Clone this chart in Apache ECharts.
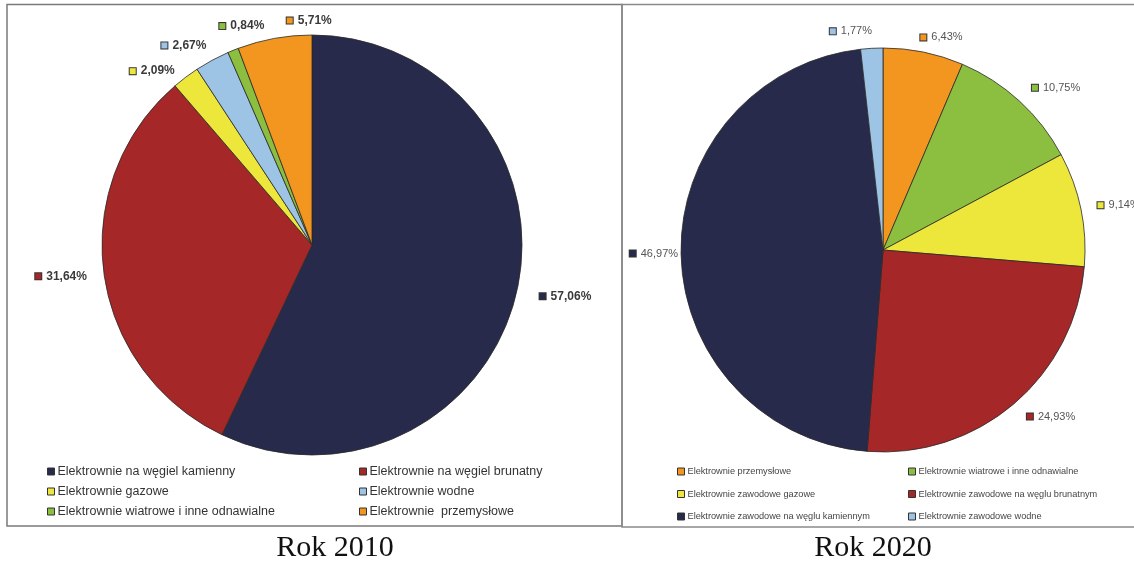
<!DOCTYPE html>
<html>
<head>
<meta charset="utf-8">
<title>Struktura produkcji energii elektrycznej – Rok 2010 i Rok 2020</title>
<script src="https://cdn.jsdelivr.net/npm/echarts@6/dist/echarts.min.js"></script>
<style>
  html, body { margin: 0; padding: 0; background: #fff; }
  #chart { width: 1134px; height: 561px; }
</style>
</head>
<body>
<div id="chart"></div>
<script>
// Rok 2010 – udział w produkcji energii elektrycznej [%]
const names2010 = [
  'Elektrownie na węgiel kamienny',
  'Elektrownie na węgiel brunatny',
  'Elektrownie gazowe',
  'Elektrownie wodne',
  'Elektrownie wiatrowe i inne odnawialne',
  'Elektrownie  przemysłowe'
];
const values2010 = [57.06, 31.64, 2.09, 2.67, 0.84, 5.71];
const colors2010 = ['#272a4a', '#a52727', '#ede73c', '#9dc3e5', '#8cbf40', '#f2961f'];

// Rok 2020 – udział w produkcji energii elektrycznej [%]
const names2020 = [
  'Elektrownie przemysłowe',
  'Elektrownie wiatrowe i inne odnawialne',
  'Elektrownie zawodowe gazowe',
  'Elektrownie zawodowe na węglu brunatnym',
  'Elektrownie zawodowe na węglu kamiennym',
  'Elektrownie zawodowe wodne'
];
const values2020 = [6.43, 10.75, 9.14, 24.93, 46.97, 1.77];
const colors2020 = ['#f2961f', '#8cbf40', '#ede73c', '#a52727', '#272a4a', '#9dc3e5'];

const titles = ['Rok 2010', 'Rok 2020'];

// label nudges (dx, dy) so the small slices' labels do not collide
const nudge2010 = [[0, 3], [6, 2], [8, 2], [12, -6], [48, -15], [72, -8]];
const nudge2020 = [[-11, -1], [-2, -3], [-2, -1], [-1, 2], [16, 0], [6, -3]];

const pct = v => v.toFixed(2).replace('.', ',') + '%';

function swatchStyles(colors) {
  const rich = {};
  colors.forEach((c, i) => {
    rich['s' + i] = { width: 6, height: 6, backgroundColor: c, borderColor: '#333', borderWidth: 1 };
  });
  return rich;
}

function pieData(names, values, colors) {
  return names.map((n, i) => ({ name: n, value: values[i], itemStyle: { color: colors[i] } }));
}

const sansFont = '"Liberation Sans", Arial, sans-serif';

function legendColumn(names, idx, left, top, fontSize, gap, color) {
  return {
    orient: 'vertical',
    left: left,
    top: top,
    itemGap: gap,
    itemWidth: 7,
    itemHeight: 7,
    icon: 'rect',
    padding: 0,
    data: idx.map(i => names[i]),
    itemStyle: { borderColor: '#333', borderWidth: 1 },
    textStyle: { fontSize: fontSize, color: color, fontFamily: sansFont, padding: [0, 0, 0, -2] }
  };
}

const chart = echarts.init(document.getElementById('chart'), null, { renderer: 'canvas' });

chart.setOption({
  backgroundColor: '#fff',
  animation: false,
  graphic: [
    { type: 'rect', shape: { x: 7, y: 4.5, width: 615, height: 521.5 },
      style: { fill: 'none', stroke: '#7a7a7a', lineWidth: 1.5 }, silent: true },
    { type: 'rect', shape: { x: 622, y: 4.5, width: 520, height: 522.5 },
      style: { fill: 'none', stroke: '#8a8a8a', lineWidth: 1.5 }, silent: true }
  ],
  title: [
    { text: titles[0], left: 335, top: 533, textAlign: 'center', padding: 0,
      textStyle: { fontFamily: '"Liberation Serif", "Times New Roman", serif', fontSize: 30, fontWeight: 'normal', color: '#111' } },
    { text: titles[1], left: 873, top: 533, textAlign: 'center', padding: 0,
      textStyle: { fontFamily: '"Liberation Serif", "Times New Roman", serif', fontSize: 30, fontWeight: 'normal', color: '#111' } }
  ],
  legend: [
    legendColumn(names2010, [0, 2, 4], 47, 465, 12.5, 7, '#333'),
    legendColumn(names2010, [1, 3, 5], 359, 465, 12.5, 7, '#333'),
    legendColumn(names2020, [0, 2, 4], 677, 467, 9.2, 13.5, '#444'),
    legendColumn(names2020, [1, 3, 5], 908, 467, 9.2, 13.5, '#444')
  ],
  series: [
    {
      name: titles[0],
      type: 'pie',
      center: [312, 245],
      radius: 210,
      startAngle: 90,
      clockwise: true,
      avoidLabelOverlap: false,
      data: pieData(names2010, values2010, colors2010),
      itemStyle: { borderColor: '#2a2a2a', borderWidth: 0.8 },
      emphasis: { disabled: true },
      label: {
        position: 'outside',
        formatter: p => '{s' + p.dataIndex + '|}{t|' + pct(p.value) + '}',
        rich: Object.assign(swatchStyles(colors2010), {
          t: { fontFamily: sansFont, fontSize: 12, fontWeight: 'bold', color: '#3a3a3a', padding: [0, 0, 0, 5] }
        })
      },
      labelLine: { show: false, length: 10, length2: 8 },
      labelLayout: p => ({ dx: nudge2010[p.dataIndex][0], dy: nudge2010[p.dataIndex][1] })
    },
    {
      name: titles[1],
      type: 'pie',
      center: [883, 250],
      radius: 202,
      startAngle: 90,
      clockwise: true,
      avoidLabelOverlap: false,
      data: pieData(names2020, values2020, colors2020),
      itemStyle: { borderColor: '#2a2a2a', borderWidth: 0.8 },
      emphasis: { disabled: true },
      label: {
        position: 'outside',
        formatter: p => '{s' + p.dataIndex + '|}{t|' + pct(p.value) + '}',
        rich: Object.assign(swatchStyles(colors2020), {
          t: { fontFamily: sansFont, fontSize: 11, color: '#555', padding: [0, 0, 0, 5] }
        })
      },
      labelLine: { show: false, length: 14, length2: 0 },
      labelLayout: p => ({ dx: nudge2020[p.dataIndex][0], dy: nudge2020[p.dataIndex][1] })
    }
  ]
});
</script>
</body>
</html>
